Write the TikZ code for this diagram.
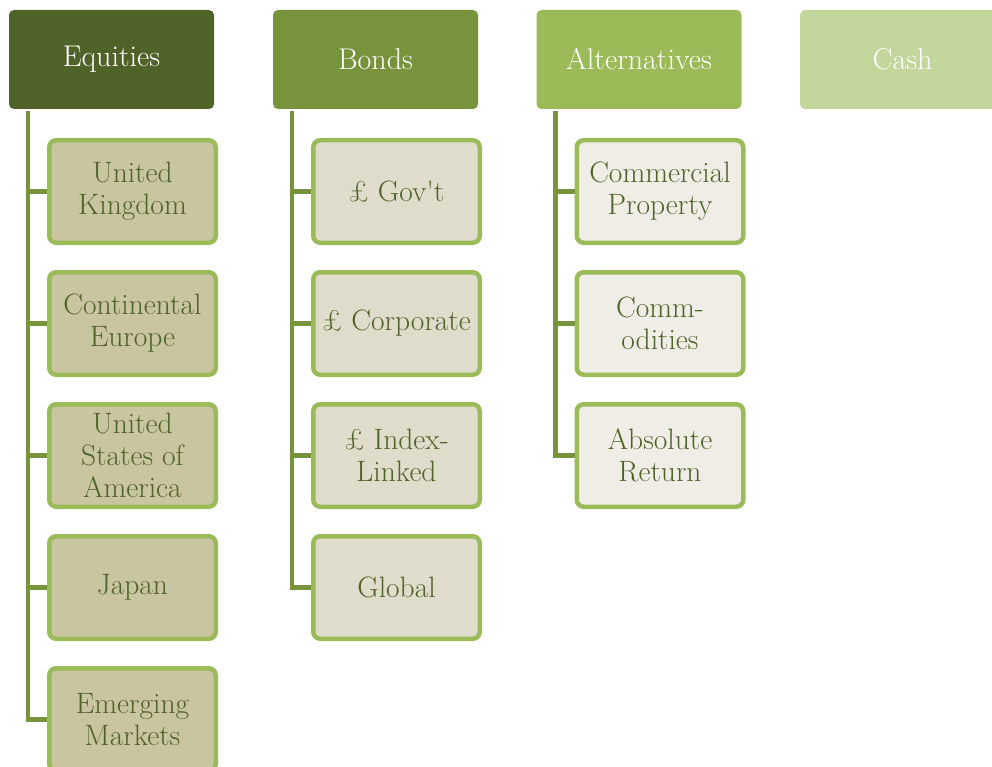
\documentclass[tikz,border=0pt]{standalone}
\usepackage{fontspec}
% family without TeX quote mapping, for the straight apostrophe
\newfontfamily\plainlm{Latin Modern Roman}[Ligatures=TeXOff]
\begin{document}
\definecolor{hdrA}{HTML}{4F6228}
\definecolor{hdrB}{HTML}{77933C}
\definecolor{hdrC}{HTML}{9BBB59}
\definecolor{hdrD}{HTML}{C3D69B}
\definecolor{fillA}{HTML}{C9C5A1}
\definecolor{fillB}{HTML}{E0DCCB}
\definecolor{fillC}{HTML}{EFEDE5}
\definecolor{edge}{HTML}{9BBB59}
\definecolor{trunk}{HTML}{77933C}
\definecolor{label}{HTML}{4F6228}
\begin{tikzpicture}[x=1pt,y=-1pt,
  header/.style={rounded corners=5pt,minimum width=205pt,minimum height=99pt,
    inner sep=0pt,text=white,font=\fontsize{30}{32}\selectfont},
  item/.style={draw=edge,line width=4.5pt,rounded corners=7pt,
    minimum width=166.5pt,minimum height=102.5pt,inner sep=0pt,
    align=center,text=label,font=\fontsize{29.5}{32}\selectfont},
  conn/.style={draw=trunk,line width=4.5pt}]
\useasboundingbox (0,0) rectangle (992,767);
\clip (0,0) rectangle (992,767);

% category headers
\node[header,fill=hdrA] (eq) at (111.5,59.5) {Equities};
\node[header,fill=hdrB] (bd) at (375.5,59.5) {Bonds};
\node[header,fill=hdrC] (al) at (639,59.5) {Alternatives};
\node[header,fill=hdrD] (ca) at (902.5,59.5) {Cash};

% equities
\node[item,fill=fillA] (e1) at (132.5,191.5) {United\\Kingdom};
\node[item,fill=fillA] (e2) at (132.5,323.5) {Continental\\Europe};
\node[item,fill=fillA] (e3) at (132.5,455.5) {United\\States of\\America};
\node[item,fill=fillA] (e4) at (132.5,587.5) {Japan};
\node[item,fill=fillA] (e5) at (132.5,719.5) {Emerging\\Markets};

% bonds
\node[item,fill=fillB] (b1) at (396.5,191.5) {£ Gov{\plainlm '}t};
\node[item,fill=fillB] (b2) at (396.5,323.5) {£ Corporate};
\node[item,fill=fillB] (b3) at (396.5,455.5) {£ Index-\\Linked};
\node[item,fill=fillB] (b4) at (396.5,587.5) {Global};

% alternatives
\node[item,fill=fillC] (a1) at (660,191.5) {Commercial\\Property};
\node[item,fill=fillC] (a2) at (660,323.5) {Comm-\\odities};
\node[item,fill=fillC] (a3) at (660,455.5) {Absolute\\Return};

% trunk lines
\coordinate (et) at ([xshift=-83.5pt,yshift=-2pt]eq.south);
\coordinate (bt) at ([xshift=-83.5pt,yshift=-2pt]bd.south);
\coordinate (at) at ([xshift=-83.5pt,yshift=-2pt]al.south);
\foreach \n in {e1,e2,e3,e4,e5} \draw[conn] (et) |- (\n.west);
\foreach \n in {b1,b2,b3,b4} \draw[conn] (bt) |- (\n.west);
\foreach \n in {a1,a2,a3} \draw[conn] (at) |- (\n.west);
\end{tikzpicture}
\end{document}
